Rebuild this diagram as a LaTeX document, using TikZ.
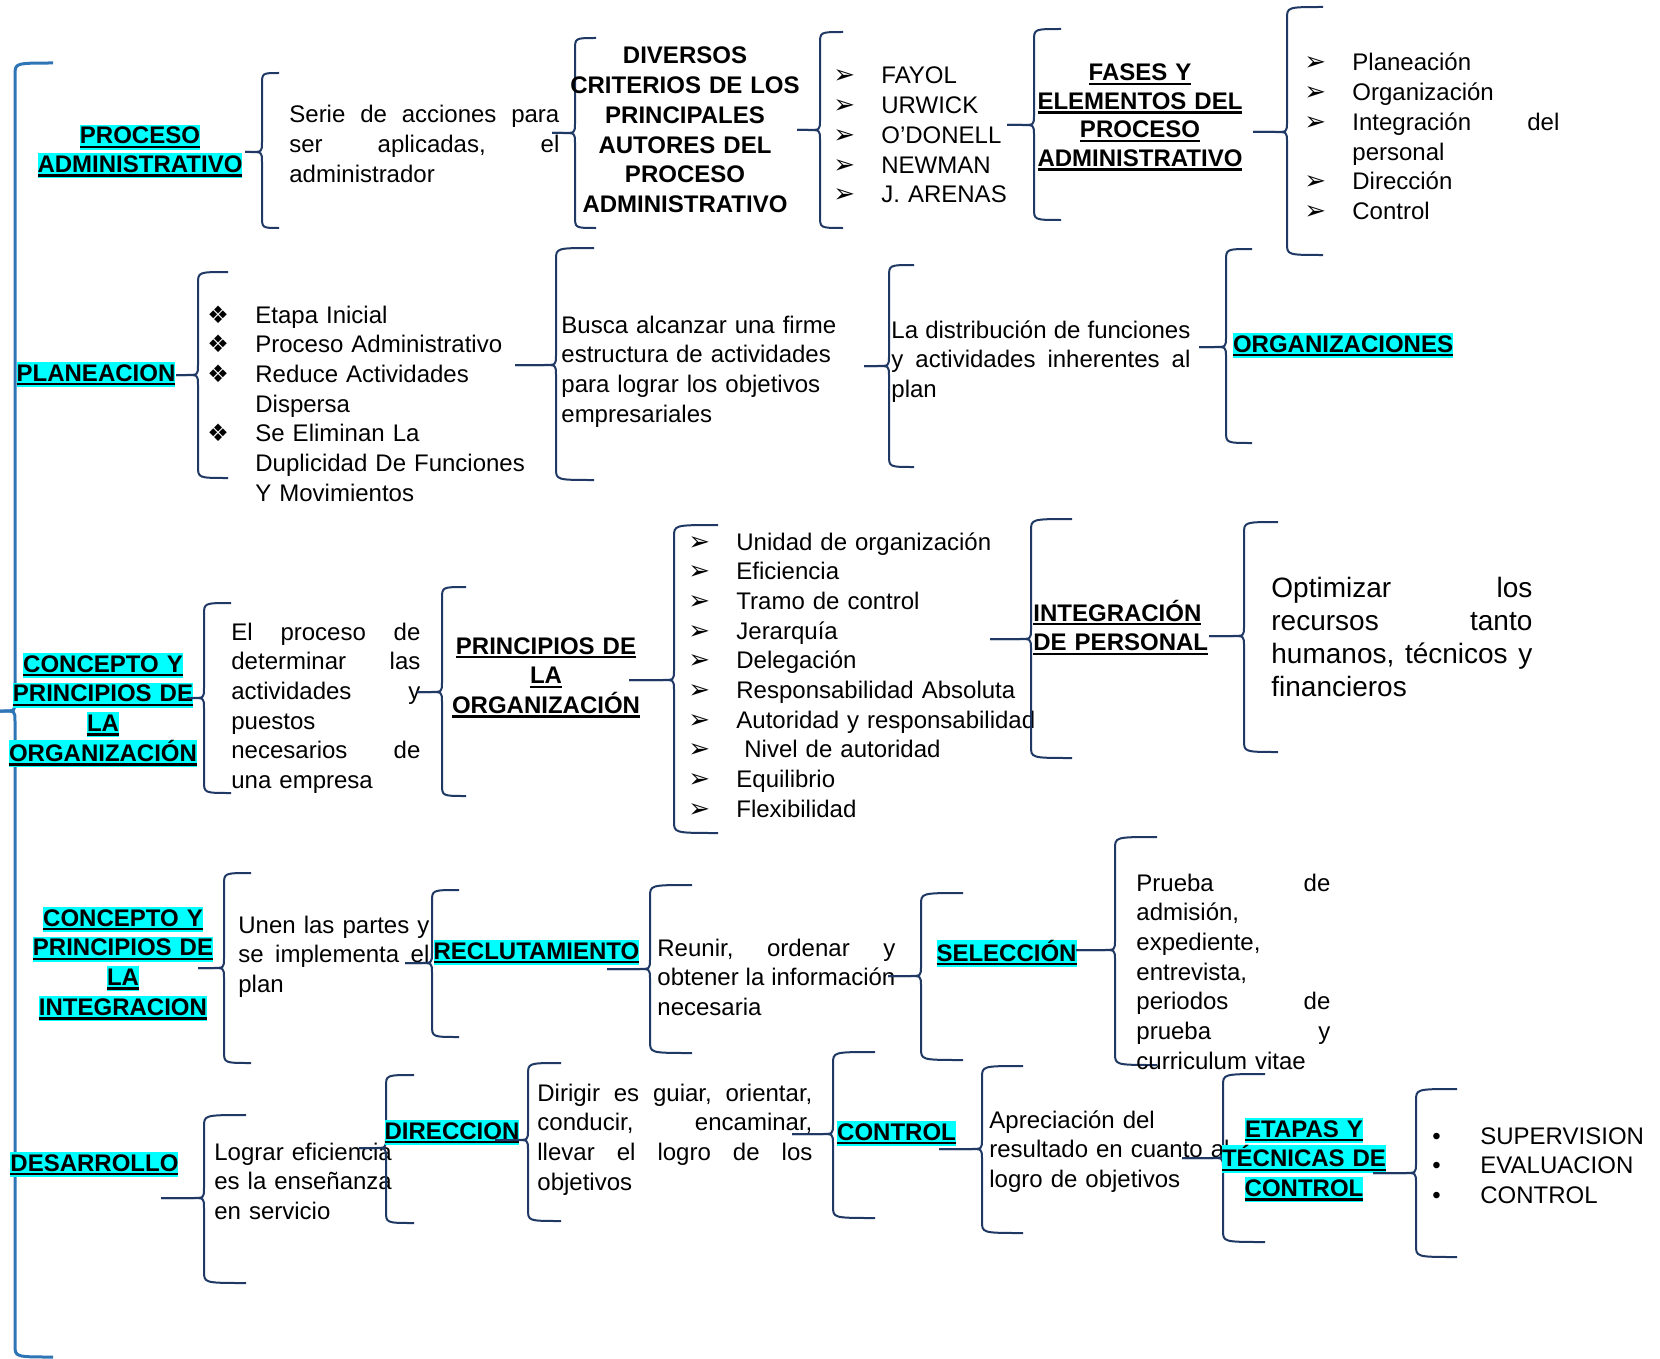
\documentclass[tikz,border=0pt]{standalone}
\usepackage{fontspec}
\setmainfont{Liberation Sans}
\newfontfamily\dingfont{DejaVu Sans}

\definecolor{brcol}{RGB}{31,56,100}
\definecolor{bigcol}{RGB}{46,117,182}
\definecolor{hlcyan}{RGB}{0,255,255}

% thick underline and cyan highlight for the headings
\newcommand{\hul}[1]{\leavevmode\setbox0\hbox{#1}\rlap{\rule[-2.2pt]{\wd0}{1.3pt}}\box0}
\newcommand{\hlt}[1]{{\setlength{\fboxsep}{0pt}\colorbox{hlcyan}{\rule[-2.9pt]{0pt}{12.5pt}\hul{#1}}}}

% list bullets
\newcommand{\arr}{\makebox[24pt][l]{\dingfont\fontsize{13}{13}\selectfont ➢}}
\newcommand{\dia}{\makebox[24pt][l]{\dingfont\fontsize{12}{12}\selectfont ❖}}
\newcommand{\dotb}{\makebox[24pt][l]{•}}
\newcommand{\ind}{\hspace*{24pt}}

% brace: [style] x, top, bottom, tip y, tip x, hook x
\newcommand{\brc}[7][brc]{%
    \draw[#1] (#7,#3) .. controls (#2,#3) .. (#2,#3+12) -- (#2,#5-10)
        .. controls (#2,#5) .. (#2-12,#5) -- (#6,#5);
    \draw[#1] (#6,#5) -- (#2-12,#5) .. controls (#2,#5) .. (#2,#5+10)
        -- (#2,#4-12) .. controls (#2,#4) .. (#7,#4);}

\begin{document}
\begin{tikzpicture}[
    x=0.5pt, y=-0.5pt,
    brc/.style={draw=brcol, line width=1pt},
    bigbrc/.style={draw=bigcol, line width=1.5pt},
    txt/.style={inner sep=0pt, anchor=base west, align=left,
        font=\fontsize{12}{14.85}\selectfont},
    hd/.style={inner sep=0pt, anchor=base, align=center,
        font=\bfseries\fontsize{12}{14.85}\selectfont},
    ]
    \useasboundingbox (0,0) rectangle (1660,1359);

    % main bracket
    \brc[bigbrc]{15}{63}{1357}{711}{0}{53}

    % proceso administrativo
    \node[hd, text width=130pt, font=\bfseries\fontsize{12}{14.2}\selectfont] (proc) at (140,144) {\hlt{PROCESO}\\\hlt{ADMINISTRATIVO}};
    \brc{262}{73}{228}{152}{245}{279}
    \node[txt, text width=135pt] (serie) at (289,123) {Serie\hfill de\hfill acciones\hfill para\\ser\hfill aplicadas,\hfill el\\administrador};
    \brc{575}{38}{228}{133}{552}{596}
    \node[hd, text width=120pt] (crit) at (685,64) {DIVERSOS\\CRITERIOS DE LOS\\PRINCIPALES\\AUTORES DEL\\PROCESO\\ADMINISTRATIVO};
    \brc{820}{32}{228}{130}{797}{843}
    \node[txt, text width=100pt] (autores) at (833,84) {\arr FAYOL\\\arr URWICK\\\arr O’DONELL\\\arr NEWMAN\\\arr J. ARENAS};
    \brc{1034}{29}{220}{125}{1007}{1061}
    \node[hd, text width=120pt, font=\bfseries\fontsize{12}{14.2}\selectfont] (fases) at (1140,81) {\hul{FASES Y}\\\hul{ELEMENTOS DEL}\\\hul{PROCESO}\\\hul{ADMINISTRATIVO}};
    \brc{1287}{7}{255}{132}{1253}{1323}
    \node[txt, text width=127.5pt] (fasl) at (1304,71) {\arr Planeación\\\arr Organización\\\arr Integración\hfill del\\\ind personal\\\arr Dirección\\\arr Control};

    % planeacion
    \node[hd] (plan) at (96,381) {\hlt{PLANEACION}};
    \brc{198}{272}{478}{375}{176}{228}
    \node[txt, text width=180pt] (planl) at (207,323) {\dia Etapa Inicial\\\dia Proceso Administrativo\\\dia Reduce Actividades\\\ind Dispersa\\\dia Se Eliminan La\\\ind Duplicidad De Funciones\\\ind Y Movimientos};
    \brc{556}{248}{480}{365}{515}{594}
    \node[txt, text width=140pt] (busca) at (561,333) {Busca alcanzar una firme\\estructura de actividades\\para lograr los objetivos\\empresariales};
    \brc{889}{265}{467}{366}{864}{914}
    \node[txt, text width=149.5pt] (distr) at (891,338) {La\hfill distribución\hfill de\hfill funciones\\y\hfill actividades\hfill inherentes\hfill al\\plan};
    \brc{1226}{249}{443}{347}{1199}{1252}
    \node[hd] (orgs) at (1343,352) {\hlt{ORGANIZACIONES}};

    % organizacion
    \node[hd, text width=110pt] (conorg) at (103,672) {\hlt{CONCEPTO Y}\\\hlt{PRINCIPIOS DE}\\\hlt{LA}\\\hlt{ORGANIZACIÓN}};
    \brc{204}{603}{793}{698}{187}{231}
    \node[txt, text width=94.5pt] (proceso) at (231,640) {El\hfill proceso\hfill de\\determinar\hfill las\\actividades\hfill y\\puestos\\necesarios\hfill de\\una empresa};
    \brc{442}{587}{796}{692}{417}{466}
    \node[hd, text width=110pt] (princ) at (546,654) {\hul{PRINCIPIOS DE}\\\hul{LA}\\\hul{ORGANIZACIÓN}};
    \brc{674}{525}{833}{680}{629}{718}
    \node[txt, text width=180pt] (princl) at (688,550) {\arr Unidad de organización\\\arr Eficiencia\\\arr Tramo de control\\\arr Jerarquía\\\arr Delegación\\\arr Responsabilidad Absoluta\\\arr Autoridad y responsabilidad\\\arr\ Nivel de autoridad\\\arr Equilibrio\\\arr Flexibilidad};
    \brc{1031}{519}{758}{639}{990}{1072}
    \node[hd, anchor=base west, align=left, text width=100pt] (integ) at (1033,621) {\hul{INTEGRACIÓN}\\\hul{DE PERSONAL}};
    \brc{1244}{522}{752}{636}{1209}{1278}
    \node[txt, text width=130.5pt, font=\fontsize{14}{16.5}\selectfont] (optim) at (1271,597) {Optimizar\hfill los\\recursos\hfill tanto\\humanos,\hfill técnicos\hfill y\\financieros};

    % integracion
    \node[hd, text width=110pt] (conint) at (123,926) {\hlt{CONCEPTO Y}\\\hlt{PRINCIPIOS DE}\\\hlt{LA}\\\hlt{INTEGRACION}};
    \brc{224}{873}{1063}{968}{198}{251}
    \node[txt, text width=95.5pt] (unen) at (238,933) {Unen\hfill las\hfill partes\hfill y\\se\hfill implementa\hfill el\\plan};
    \brc{432}{890}{1037}{963}{405}{459}
    \node[hd] (recl) at (536.5,959) {\hlt{RECLUTAMIENTO}};
    \brc{650}{885}{1053}{969}{607}{692}
    \node[txt, text width=119pt] (reunir) at (657,956) {Reunir,\hfill ordenar\hfill y\\obtener\hfill la\hfill información\\necesaria};
    \brc{921}{893}{1060}{976}{888}{963}
    \node[hd] (selec) at (1006.5,961) {\hlt{SELECCIÓN}};
    \brc{1115}{837}{1065}{950}{1076}{1157}
    \node[txt, text width=97pt] (prueba) at (1136,891) {Prueba\hfill de\\admisión,\\expediente,\\entrevista,\\periodos\hfill de\\prueba\hfill y\\curriculum vitae};

    % desarrollo
    \node[hd] (desa) at (94.5,1171) {\hlt{DESARROLLO}};
    \brc{204}{1115}{1283}{1198}{161}{246}
    \node[txt, text width=95pt] (lograr) at (214,1160) {Lograr eficiencia\\es la enseñanza\\en servicio};
    \brc{386}{1075}{1223}{1148}{359}{414}
    \node[hd] (direc) at (452,1139) {\hlt{DIRECCION}};
    \brc{528}{1063}{1221}{1140}{495}{561}
    \node[txt, text width=137.5pt] (dirigir) at (537,1101) {Dirigir\hfill es\hfill guiar,\hfill orientar,\\conducir,\hfill encaminar,\\llevar\hfill el\hfill logro\hfill de\hfill los\\objetivos};
    \brc{833}{1052}{1218}{1134}{792}{875}
    \node[hd] (contr) at (896.5,1140) {\hlt{CONTROL}};
    \brc{982}{1066}{1233}{1149}{939}{1023}
    \node[txt, text width=125pt] (apre) at (989,1128) {Apreciación del\\resultado en cuanto al\\logro de objetivos};
    \brc{1223}{1074}{1242}{1158}{1182}{1265}
    \node[hd, text width=100pt] (etapas) at (1304,1137) {\hlt{ETAPAS Y}\\\hlt{TÉCNICAS DE}\\\hlt{CONTROL}};
    \brc{1416}{1089}{1257}{1173}{1373}{1457}
    \node[txt, text width=100pt] (supl) at (1432,1144) {\dotb SUPERVISION\\\dotb EVALUACION\\\dotb CONTROL};
\end{tikzpicture}
\end{document}
